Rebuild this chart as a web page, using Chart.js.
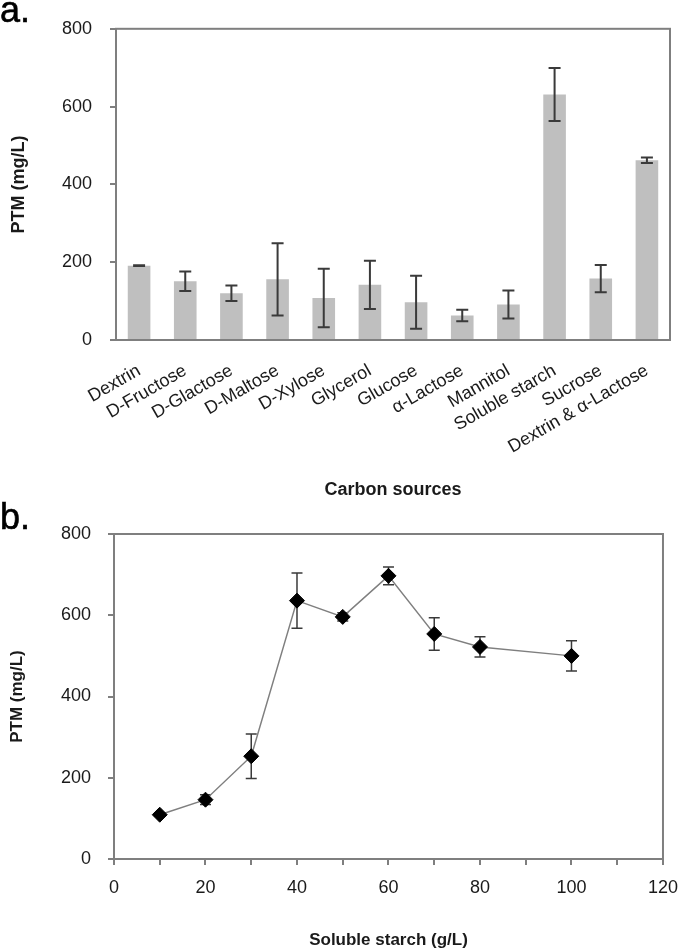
<!DOCTYPE html>
<html>
<head>
<meta charset="utf-8">
<script src="https://cdn.jsdelivr.net/npm/chart.js@4.4.1/dist/chart.umd.min.js"></script>
<style>
  html, body { margin: 0; padding: 0; background: #ffffff; }
  body { width: 690px; height: 952px; position: relative; overflow: hidden; font-family: "Liberation Sans", Arial, sans-serif; }
  #ca { position: absolute; left: 0; top: 0; }
  #cb { position: absolute; left: 0; top: 505px; }
  .panel { position: absolute; left: 0; font-size: 36px; line-height: 36px; color: #000; font-family: "Liberation Sans", Arial, sans-serif; -webkit-text-stroke: 0.6px #000; }
</style>
</head>
<body>
<canvas id="ca" width="690" height="505"></canvas>
<canvas id="cb" width="690" height="447"></canvas>
<div class="panel" style="top:-8px;">a.</div>
<div class="panel" style="top:499px;">b.</div>
<script>
// ---- Data (panel a) ----
const categories = ['Dextrin', 'D-Fructose', 'D-Glactose', 'D-Maltose', 'D-Xylose', 'Glycerol', 'Glucose', 'α-Lactose', 'Mannitol', 'Soluble starch', 'Sucrose', 'Dextrin & α-Lactose'];
const ptmMeans = [191, 151, 120, 156, 108, 142, 97, 63, 91, 631, 158, 462];
const ptmErrors = [1, 25, 20, 93, 75, 62, 68, 15, 36, 68, 35, 7];

// ---- Data (panel b) ----
const starchConc = [10, 20, 30, 40, 50, 60, 70, 80, 100];
const starchPtm = [109, 146, 253, 636, 596, 697, 554, 522, 500];
const starchErr = [4, 12, 55, 68, 10, 22, 40, 25, 37];

const yTicks = [0, 200, 400, 600, 800];

const AXIS_GRAY = '#7f7f7f';
const TEXT = '#1a1a1a';
const FONT = '"Liberation Sans", Arial, sans-serif';

function boxPlugin() {
  return {
    id: 'box',
    afterDatasetsDraw(chart) {
      const a = chart.chartArea, ctx = chart.ctx;
      ctx.save();
      ctx.strokeStyle = AXIS_GRAY;
      ctx.lineWidth = 2;
      ctx.strokeRect(a.left, a.top, a.right - a.left, a.bottom - a.top);
      ctx.restore();
    }
  };
}

function errorPlugin(values, errs, hook, opts) {
  const p = { id: 'errbars' };
  p[hook] = function (chart) {
    const meta = chart.getDatasetMeta(0);
    const ys = chart.scales.y;
    const ctx = chart.ctx;
    ctx.save();
    ctx.strokeStyle = opts.color;
    ctx.lineWidth = opts.width;
    meta.data.forEach((el, i) => {
      const x = el.x;
      const t = ys.getPixelForValue(values[i] + errs[i]);
      const b = ys.getPixelForValue(values[i] - errs[i]);
      ctx.beginPath();
      ctx.moveTo(x, t); ctx.lineTo(x, b);
      ctx.moveTo(x - opts.cap / 2, t); ctx.lineTo(x + opts.cap / 2, t);
      ctx.moveTo(x - opts.cap / 2, b); ctx.lineTo(x + opts.cap / 2, b);
      ctx.stroke();
    });
    ctx.restore();
  };
  return p;
}

// ---- Panel a: bar chart ----
new Chart(document.getElementById('ca'), {
  type: 'bar',
  data: {
    labels: categories,
    datasets: [{
      data: ptmMeans,
      backgroundColor: '#bfbfbf',
      borderWidth: 0,
      barPercentage: 0.49,
      categoryPercentage: 1.0
    }]
  },
  options: {
    responsive: false,
    devicePixelRatio: 1,
    animation: false,
    layout: { padding: { top: 21, right: 20, left: 0, bottom: 0 } },
    plugins: { legend: { display: false }, tooltip: { enabled: false } },
    scales: {
      x: {
        grid: { display: false, drawTicks: false },
        border: { display: false },
        ticks: {
          color: TEXT, font: { family: FONT, size: 18 },
          minRotation: 30, maxRotation: 30, autoSkip: false, padding: 20
        },
        title: {
          display: true, text: 'Carbon sources', color: TEXT,
          font: { family: FONT, size: 18, weight: 'bold' },
          padding: { top: 0, bottom: 4 }
        },
        afterFit(s) { s.height = 165; }
      },
      y: {
        min: 0, max: 800,
        afterBuildTicks(s) { s.ticks = yTicks.map(v => ({ value: v })); },
        grid: { display: true, drawOnChartArea: false, drawTicks: true, tickLength: 6, color: AXIS_GRAY, lineWidth: 2 },
        border: { display: false },
        ticks: { color: TEXT, font: { family: FONT, size: 18 }, padding: 18 },
        title: {
          display: true, text: 'PTM (mg/L)', color: TEXT,
          font: { family: FONT, size: 18, weight: 'bold' },
          padding: { top: 8, bottom: 0 }
        },
        afterFit(s) { s.width = 116; }
      }
    }
  },
  plugins: [boxPlugin(), errorPlugin(ptmMeans, ptmErrors, 'afterDatasetsDraw', { color: '#3a3a3a', width: 2, cap: 12 })]
});

// ---- Panel b: line chart ----
new Chart(document.getElementById('cb'), {
  type: 'line',
  data: {
    datasets: [{
      data: starchConc.map((x, i) => ({ x: x, y: starchPtm[i] })),
      borderColor: '#7f7f7f',
      borderWidth: 1.5,
      tension: 0,
      pointStyle: 'rectRot',
      pointRadius: 7.5,
      pointBackgroundColor: '#000000',
      pointBorderColor: '#000000',
      pointBorderWidth: 1
    }]
  },
  options: {
    responsive: false,
    devicePixelRatio: 1,
    animation: false,
    layout: { padding: { top: 29, right: 14, left: 0, bottom: 0 } },
    plugins: { legend: { display: false }, tooltip: { enabled: false } },
    scales: {
      x: {
        type: 'linear', min: 0, max: 120,
        ticks: {
          stepSize: 10, autoSkip: false, maxRotation: 0,
          color: TEXT, font: { family: FONT, size: 18 }, padding: 12,
          callback: v => (v % 20 === 0 ? String(v) : '')
        },
        grid: { display: true, drawOnChartArea: false, drawTicks: true, tickLength: 6, color: AXIS_GRAY, lineWidth: 2 },
        border: { display: false },
        title: {
          display: true, text: 'Soluble starch (g/L)', color: TEXT,
          font: { family: FONT, size: 17, weight: 'bold' },
          padding: { top: 0, bottom: 1 }
        },
        afterFit(s) { s.height = 93; }
      },
      y: {
        min: 0, max: 800,
        afterBuildTicks(s) { s.ticks = yTicks.map(v => ({ value: v })); },
        grid: { display: true, drawOnChartArea: false, drawTicks: true, tickLength: 6, color: AXIS_GRAY, lineWidth: 2 },
        border: { display: false },
        ticks: { color: TEXT, font: { family: FONT, size: 18 }, padding: 17 },
        title: {
          display: true, text: 'PTM (mg/L)', color: TEXT,
          font: { family: FONT, size: 17, weight: 'bold' },
          padding: { top: 7, bottom: 0 }
        },
        afterFit(s) { s.width = 114; }
      }
    }
  },
  plugins: [boxPlugin(), errorPlugin(starchPtm, starchErr, 'beforeDatasetsDraw', { color: '#3a3a3a', width: 1.5, cap: 11 })]
});
</script>
</body>
</html>
